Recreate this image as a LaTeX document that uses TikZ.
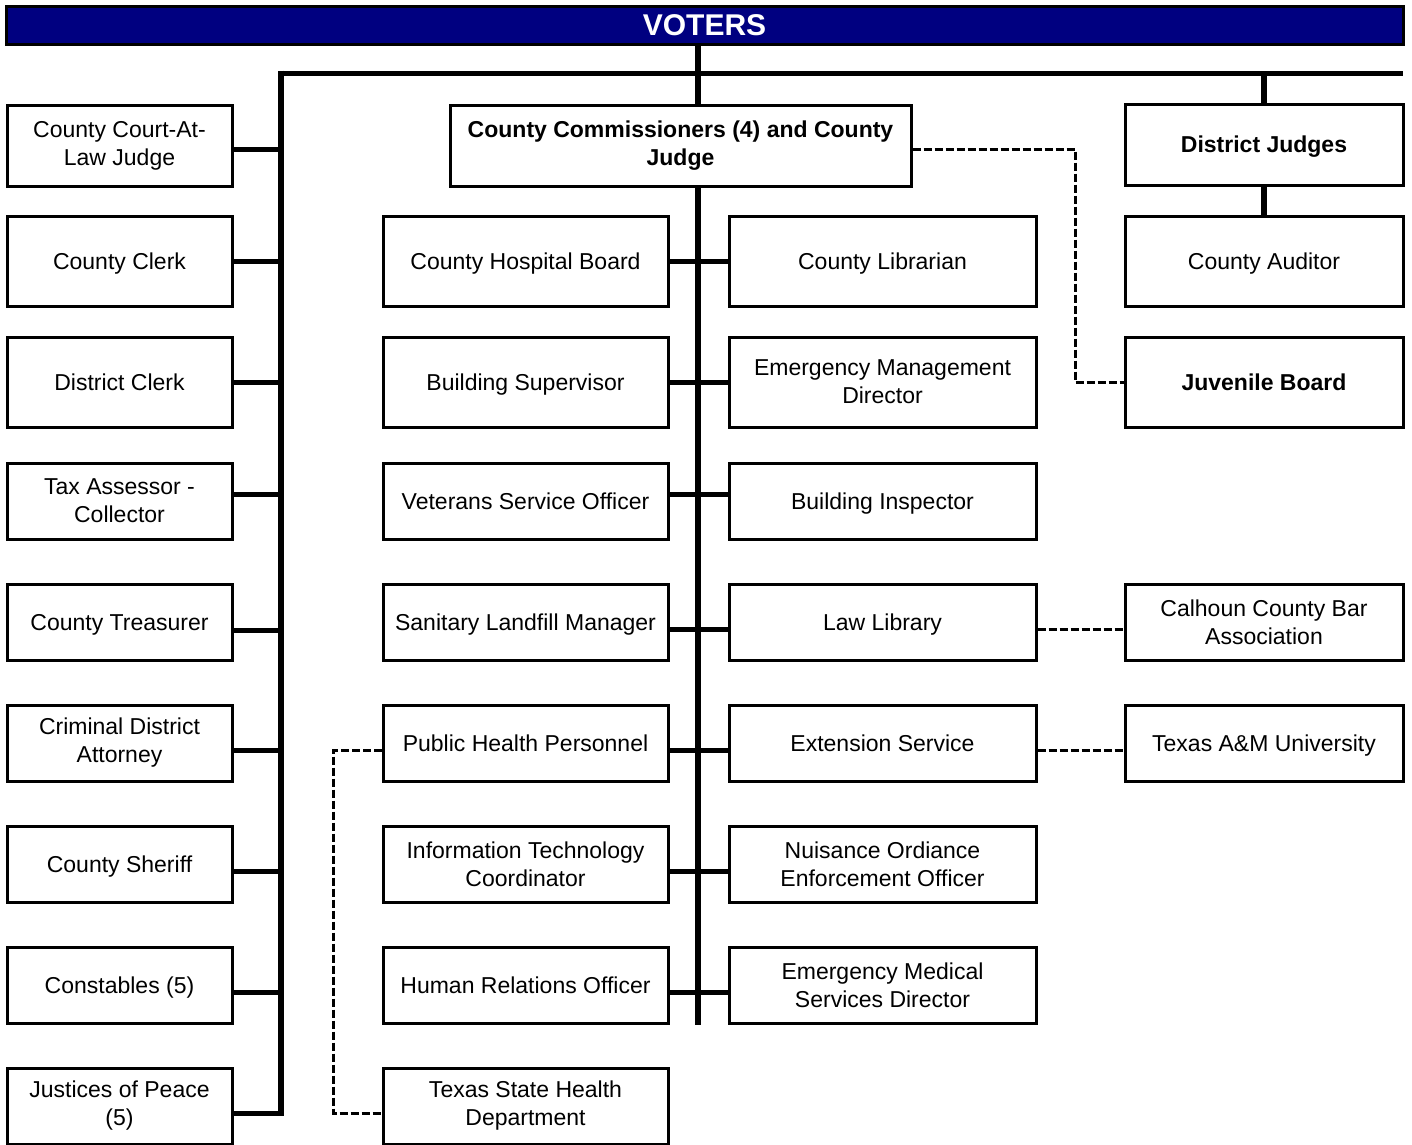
\documentclass[tikz,border=0pt]{standalone}
\usepackage{fontspec}
\setmainfont{Liberation Sans}
\usetikzlibrary{calc}
\definecolor{voterblue}{RGB}{0,0,128}
\begin{document}
\begin{tikzpicture}[x=1pt,y=-1pt,
    every node/.style={font=\fontsize{23}{28}\selectfont, align=center, inner sep=4pt},
    office/.style={draw, line width=3pt, minimum height=76pt},
    keyoffice/.style={office, font=\fontsize{23}{28}\selectfont\bfseries},
    solo/.style={text height=21.5pt, text depth=5pt},
    tall/.style={minimum height=90pt},
    leftcol/.style={office, minimum width=225pt},
    midleft/.style={office, minimum width=285pt},
    midright/.style={office, minimum width=307pt},
    rightcol/.style={office, minimum width=278pt},
    voters/.style={draw, line width=3pt, fill=voterblue, text=white,
        font=\fontsize{30}{34}\selectfont\bfseries, minimum width=1397pt, minimum height=38pt},
    spine/.style={line width=6pt},
    bus/.style={line width=5pt},
    branch/.style={line width=5pt},
    dashlink/.style={line width=3pt, dash pattern=on 8pt off 3pt}]
    \useasboundingbox (0,0) rectangle (1412,1144);

    \node[voters] (voters) at (704.5,25) {VOTERS};
    \coordinate (lspine) at (281,73);
    \coordinate (mspine) at (698,73);
    \coordinate (busend) at (1403,73);
    \coordinate (jbx) at (1075,0);
    \coordinate (tsx) at (333,0);

    % elected offices
    \node[leftcol, minimum height=81pt] (ccl) at (119.5,145.5) {County Court-At-\\Law Judge};
    \node[leftcol, tall, solo] (clerk) at (119.5,261) {County Clerk};
    \node[leftcol, tall, solo] (dclerk) at (119.5,382) {District Clerk};
    \node[leftcol] (tax) at (119.5,501) {Tax Assessor -\\Collector};
    \node[leftcol, solo] (treas) at (119.5,622) {County Treasurer};
    \node[leftcol] (cda) at (119.5,743) {Criminal District\\Attorney};
    \node[leftcol, solo] (sheriff) at (119.5,864) {County Sheriff};
    \node[leftcol, solo] (const) at (119.5,985) {Constables (5)};
    \node[leftcol] (jp) at (119.5,1106) {Justices of Peace\\(5)};

    % commissioners court
    \node[keyoffice, minimum width=461pt, minimum height=81pt] (comm) at (680.5,145.5) {County Commissioners (4) and County\\Judge};
    \node[midleft, tall, solo] (hosp) at (525.5,261) {County Hospital Board};
    \node[midright, tall, solo] (lib) at (882.5,261) {County Librarian};
    \node[midleft, tall, solo] (bsup) at (525.5,382) {Building Supervisor};
    \node[midright, tall] (emd) at (882.5,382) {Emergency Management\\Director};
    \node[midleft, solo] (vso) at (525.5,501) {Veterans Service Officer};
    \node[midright, solo] (binsp) at (882.5,501) {Building Inspector};
    \node[midleft, solo] (landfill) at (525.5,622) {Sanitary Landfill Manager};
    \node[midright, solo] (lawlib) at (882.5,622) {Law Library};
    \node[midleft, solo] (phealth) at (525.5,743) {Public Health Personnel};
    \node[midright, solo] (ext) at (882.5,743) {Extension Service};
    \node[midleft] (itc) at (525.5,864) {Information Technology\\Coordinator};
    \node[midright] (nuis) at (882.5,864) {Nuisance Ordiance\\Enforcement Officer};
    \node[midleft, solo] (hro) at (525.5,985) {Human Relations Officer};
    \node[midright] (ems) at (882.5,985) {Emergency Medical\\Services Director};
    \node[midleft] (tshd) at (525.5,1106) {Texas State Health\\Department};

    % judges
    \node[keyoffice, minimum width=278pt, minimum height=81pt, solo] (dj) at (1264,144.5) {District Judges};
    \node[rightcol, tall, solo] (aud) at (1264,261) {County Auditor};
    \node[keyoffice, minimum width=278pt, tall, solo] (juv) at (1264,382) {Juvenile Board};
    \node[rightcol] (bar) at (1264,622) {Calhoun County Bar\\Association};
    \node[rightcol, solo] (tamu) at (1264,743) {Texas A\&M University};

    \draw[spine] (voters.south -| mspine) -- (comm.north -| mspine);
    \draw[bus] (lspine) -- (busend);
    \draw[spine] (dj.north) -- (dj.north |- busend);
    \draw[spine] (dj.south) -- (aud.north);

    \foreach \n/\s in {ccl/3.5, clerk/0, dclerk/0, tax/-7, treas/8, cda/7, sheriff/7, const/7, jp/7}
        \draw[branch] ($(\n.east)+(0,\s)$) coordinate (c\n) -- (c\n -| lspine);
    \draw[spine] ($(lspine)+(0,-2.5)$) -- ($(lspine |- cjp)+(0,2.5)$);

    \foreach \a/\b/\s in {hosp/lib/0, bsup/emd/0, vso/binsp/-7, landfill/lawlib/7, phealth/ext/7, itc/nuis/7, hro/ems/7}
        \draw[branch] ($(\a.east)+(0,\s)$) coordinate (m\a) -- (m\a -| \b.west);
    \draw[spine] (comm.south -| mspine) -- (mspine |- hro.south);

    \draw[dashlink] ($(comm.east)+(0,3.5)$) coordinate (d1) -- (d1 -| jbx) |- (juv.west);
    \draw[dashlink] ($(phealth.west)+(0,7)$) coordinate (d2) -- (d2 -| tsx) |- ($(tshd.west)+(0,7)$);
    \draw[dashlink] ($(lawlib.east)+(0,7)$) coordinate (d3) -- (d3 -| bar.west);
    \draw[dashlink] ($(ext.east)+(0,7)$) coordinate (d4) -- (d4 -| tamu.west);
\end{tikzpicture}
\end{document}
